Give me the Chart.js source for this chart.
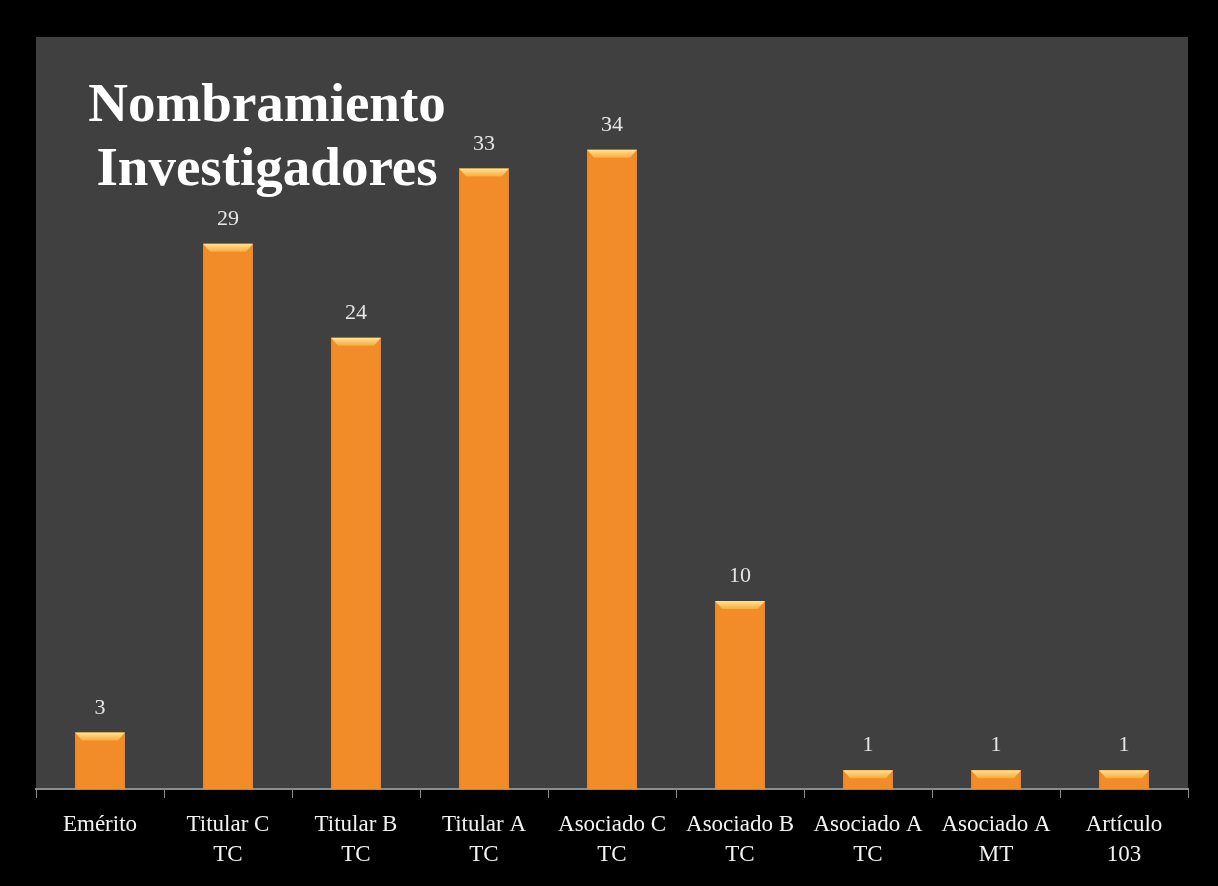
<!DOCTYPE html>
<html>
<head>
<meta charset="utf-8">
<script src="https://cdn.jsdelivr.net/npm/chart.js@4/dist/chart.umd.min.js"></script>
<style>
    html, body { margin: 0; padding: 0; background: #000; }
    #wrap { width: 1218px; height: 886px; }
</style>
</head>
<body>
<div id="wrap"><canvas id="chartNombramiento"></canvas></div>
<script>
// datos del grafico
const categorias = [
    'Emérito', ['Titular C', 'TC'], ['Titular B', 'TC'], ['Titular A', 'TC'],
    ['Asociado C', 'TC'], ['Asociado B', 'TC'], ['Asociado A', 'TC'],
    ['Asociado A', 'MT'], ['Artículo', '103']
];
const investigadores = [3, 29, 24, 33, 34, 10, 1, 1, 1];
const tituloLineas = ['Nombramiento', 'Investigadores'];

const fuenteSerif = '"Liberation Serif", "DejaVu Serif", serif';

// fondo gris del area del grafico
const fondoArea = {
    id: 'fondoArea',
    beforeDraw(chart) {
        const a = chart.chartArea;
        const ctx = chart.ctx;
        ctx.save();
        ctx.fillStyle = '#404040';
        ctx.fillRect(a.left, a.top, a.right - a.left, a.bottom - a.top);
        ctx.restore();
    }
};

// bisel superior de las barras y etiquetas de valor
const biselYValores = {
    id: 'biselYValores',
    afterDatasetsDraw(chart) {
        const ctx = chart.ctx;
        const meta = chart.getDatasetMeta(0);
        ctx.save();
        meta.data.forEach((bar, i) => {
            const w = bar.width;
            const l = bar.x - w / 2, r = bar.x + w / 2, t = bar.y;
            const b = Math.min(8, (bar.base - t) / 2);
            const g = ctx.createLinearGradient(0, t, 0, t + b);
            g.addColorStop(0, '#ffe48f');
            g.addColorStop(1, '#f9aa40');
            ctx.fillStyle = g;
            ctx.beginPath();
            ctx.moveTo(l, t);
            ctx.lineTo(r, t);
            ctx.lineTo(r - 7, t + b);
            ctx.lineTo(l + 7, t + b);
            ctx.closePath();
            ctx.fill();

            ctx.fillStyle = '#e6e6e6';
            ctx.font = '22px ' + fuenteSerif;
            ctx.textAlign = 'center';
            ctx.textBaseline = 'alphabetic';
            ctx.fillText(investigadores[i], bar.x, t - 19);
        });
        ctx.restore();
    }
};

// titulo dentro del area
const tituloInterno = {
    id: 'tituloInterno',
    afterDraw(chart) {
        const ctx = chart.ctx;
        ctx.save();
        ctx.fillStyle = '#ffffff';
        ctx.font = 'bold 55px ' + fuenteSerif;
        ctx.textAlign = 'center';
        ctx.fillText(tituloLineas[0], 267, 121);
        ctx.fillText(tituloLineas[1], 267, 185);
        ctx.restore();
    }
};

function colorBarra(context) {
    const el = context.element;
    if (!el || !el.width) return '#f28c28';
    const ctx = context.chart.ctx;
    const l = el.x - el.width / 2, r = el.x + el.width / 2;
    const g = ctx.createLinearGradient(l, 0, r, 0);
    g.addColorStop(0, '#c9661a');
    g.addColorStop(0.1, '#ee8a2a');
    g.addColorStop(0.5, '#f99b31');
    g.addColorStop(0.9, '#ee8a2a');
    g.addColorStop(1, '#c9661a');
    return g;
}

const ctxN = document.getElementById('chartNombramiento');
new Chart(ctxN, {
    type: 'bar',
    data: {
        labels: categorias,
        datasets: [{
            label: 'Investigadores',
            data: investigadores,
            backgroundColor: colorBarra,
            borderWidth: 0,
            categoryPercentage: 1,
            barPercentage: 0.39
        }]
    },
    options: {
        responsive: true,
        maintainAspectRatio: false,
        animation: false,
        layout: {
            padding: { left: 36, top: 37, right: 30, bottom: 0 }
        },
        plugins: {
            legend: { display: false },
            tooltip: { enabled: false }
        },
        scales: {
            x: {
                afterFit(scale) { scale.height = 97; },
                grid: {
                    drawOnChartArea: false,
                    drawTicks: true,
                    tickLength: 9,
                    color: '#8c8c8c',
                    lineWidth: 1
                },
                border: { display: true, color: '#8c8c8c', width: 2 },
                ticks: {
                    color: '#f2f2f2',
                    maxRotation: 0,
                    autoSkip: false,
                    padding: 12,
                    font: { family: fuenteSerif, size: 23, lineHeight: 1.3 }
                }
            },
            y: {
                display: false,
                min: 0,
                max: 40
            }
        }
    },
    plugins: [fondoArea, biselYValores, tituloInterno]
});
</script>
</body>
</html>
